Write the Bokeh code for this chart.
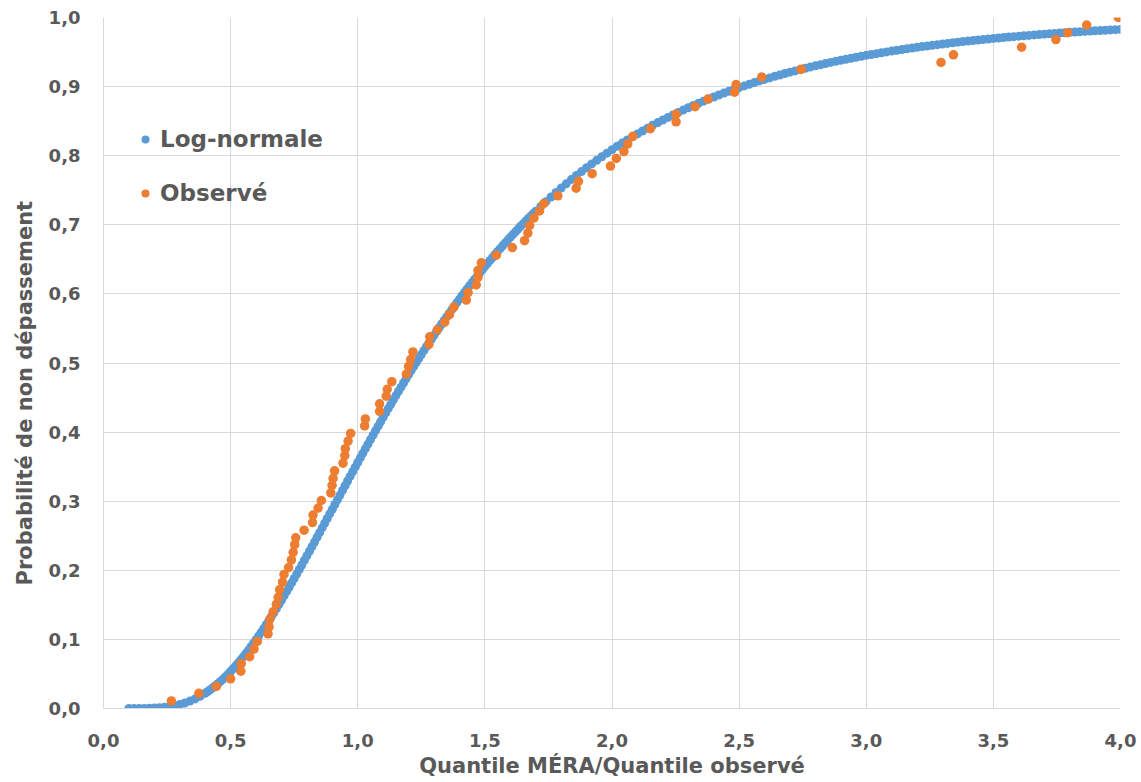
from bokeh.embed import file_html
from bokeh.models import (ColumnDataSource, CustomJSTickFormatter, FixedTicker,
                          Legend, LegendItem, Range1d, Title)
from bokeh.plotting import figure
from bokeh.resources import INLINE

# Fitted log-normal distribution: quantile ratio and non-exceedance probability
lognorm_x = [
    0.10, 0.12, 0.14, 0.16, 0.18, 0.20, 0.22, 0.24, 0.26, 0.28, 0.30, 0.32, 0.34, 0.36, 0.38, 0.40,
    0.41, 0.42, 0.43, 0.44, 0.45, 0.46, 0.47, 0.48, 0.49, 0.50,
    0.51, 0.52, 0.53, 0.54, 0.55, 0.56, 0.57, 0.58, 0.59, 0.60,
    0.61, 0.62, 0.63, 0.64, 0.65, 0.66, 0.67, 0.68, 0.69, 0.70,
    0.71, 0.72, 0.73, 0.74, 0.75, 0.76, 0.77, 0.78, 0.79, 0.80,
    0.81, 0.82, 0.83, 0.84, 0.85, 0.86, 0.87, 0.88, 0.89, 0.90,
    0.91, 0.92, 0.93, 0.94, 0.95, 0.96, 0.97, 0.98, 0.99, 1.00,
    1.01, 1.02, 1.03, 1.04, 1.05, 1.06, 1.07, 1.08, 1.09, 1.10,
    1.11, 1.12, 1.13, 1.14, 1.15, 1.16, 1.17, 1.18, 1.19, 1.20,
    1.21, 1.22, 1.23, 1.24, 1.25, 1.26, 1.27, 1.28, 1.29, 1.30,
    1.31, 1.32, 1.33, 1.34, 1.35, 1.36, 1.37, 1.38, 1.39, 1.40,
    1.41, 1.42, 1.43, 1.44, 1.45, 1.46, 1.47, 1.48, 1.49, 1.50,
    1.51, 1.52, 1.53, 1.54, 1.55, 1.56, 1.57, 1.58, 1.59, 1.60,
    1.61, 1.62, 1.63, 1.64, 1.65, 1.66, 1.67, 1.68, 1.69, 1.70,
    1.72, 1.74, 1.76, 1.78, 1.80, 1.82, 1.84, 1.86, 1.88, 1.90,
    1.92, 1.94, 1.96, 1.98, 2.00, 2.02, 2.04, 2.06, 2.08, 2.10,
    2.12, 2.14, 2.16, 2.18, 2.20, 2.22, 2.24, 2.26, 2.28, 2.30,
    2.32, 2.34, 2.36, 2.38, 2.40, 2.42, 2.44, 2.46, 2.48, 2.50,
    2.52, 2.54, 2.56, 2.58, 2.60, 2.62, 2.64, 2.66, 2.68, 2.70,
    2.72, 2.74, 2.76, 2.78, 2.80, 2.82, 2.84, 2.86, 2.88, 2.90,
    2.92, 2.94, 2.96, 2.98, 3.00, 3.02, 3.04, 3.06, 3.08, 3.10,
    3.12, 3.14, 3.16, 3.18, 3.20, 3.22, 3.24, 3.26, 3.28, 3.30,
    3.32, 3.34, 3.36, 3.38, 3.40, 3.42, 3.44, 3.46, 3.48, 3.50,
    3.52, 3.54, 3.56, 3.58, 3.60, 3.62, 3.64, 3.66, 3.68, 3.70,
    3.72, 3.74, 3.76, 3.78, 3.80, 3.82, 3.84, 3.86, 3.88, 3.90,
    3.92, 3.94, 3.96, 3.98, 4.00,
]
lognorm_p = [
    0.0000, 0.0000, 0.0000, 0.0001, 0.0003, 0.0006, 0.0010, 0.0017, 0.0027, 0.0040,
    0.0058, 0.0080, 0.0107, 0.0139, 0.0177, 0.0221,
    0.0246, 0.0272, 0.0300, 0.0329, 0.0359, 0.0392, 0.0426, 0.0461, 0.0497, 0.0536,
    0.0576, 0.0617, 0.0659, 0.0704, 0.0749, 0.0796, 0.0844, 0.0893, 0.0944, 0.0995,
    0.1048, 0.1102, 0.1156, 0.1213, 0.1269, 0.1327, 0.1386, 0.1445, 0.1506, 0.1567,
    0.1629, 0.1691, 0.1754, 0.1818, 0.1882, 0.1947, 0.2012, 0.2077, 0.2143, 0.2210,
    0.2276, 0.2343, 0.2410, 0.2478, 0.2545, 0.2613, 0.2681, 0.2749, 0.2817, 0.2884,
    0.2953, 0.3020, 0.3088, 0.3156, 0.3224, 0.3292, 0.3359, 0.3426, 0.3493, 0.3560,
    0.3627, 0.3693, 0.3760, 0.3825, 0.3891, 0.3956, 0.4021, 0.4086, 0.4150, 0.4214,
    0.4278, 0.4340, 0.4403, 0.4466, 0.4528, 0.4589, 0.4650, 0.4711, 0.4771, 0.4831,
    0.4890, 0.4949, 0.5007, 0.5065, 0.5122, 0.5179, 0.5236, 0.5292, 0.5347, 0.5402,
    0.5457, 0.5510, 0.5564, 0.5617, 0.5669, 0.5721, 0.5772, 0.5824, 0.5874, 0.5924,
    0.5973, 0.6023, 0.6071, 0.6118, 0.6165, 0.6213, 0.6260, 0.6305, 0.6350, 0.6396,
    0.6440, 0.6484, 0.6527, 0.6571, 0.6614, 0.6655, 0.6697, 0.6738, 0.6779, 0.6819,
    0.6858, 0.6897, 0.6937, 0.6976, 0.7013, 0.7050, 0.7087, 0.7124, 0.7160, 0.7196,
    0.7266, 0.7335, 0.7402, 0.7467, 0.7531, 0.7593, 0.7654, 0.7713, 0.7770, 0.7826,
    0.7881, 0.7934, 0.7985, 0.8037, 0.8086, 0.8135, 0.8182, 0.8227, 0.8272, 0.8315,
    0.8358, 0.8399, 0.8440, 0.8479, 0.8517, 0.8554, 0.8590, 0.8626, 0.8660, 0.8694,
    0.8726, 0.8758, 0.8789, 0.8819, 0.8849, 0.8878, 0.8906, 0.8933, 0.8959, 0.8985,
    0.9010, 0.9034, 0.9058, 0.9082, 0.9104, 0.9126, 0.9148, 0.9168, 0.9189, 0.9209,
    0.9227, 0.9246, 0.9265, 0.9283, 0.9300, 0.9317, 0.9334, 0.9350, 0.9366, 0.9381,
    0.9396, 0.9410, 0.9424, 0.9438, 0.9452, 0.9465, 0.9477, 0.9490, 0.9502, 0.9514,
    0.9525, 0.9536, 0.9547, 0.9558, 0.9569, 0.9579, 0.9588, 0.9598, 0.9607, 0.9617,
    0.9625, 0.9634, 0.9643, 0.9651, 0.9659, 0.9667, 0.9675, 0.9682, 0.9689, 0.9697,
    0.9703, 0.9710, 0.9717, 0.9723, 0.9730, 0.9736, 0.9741, 0.9748, 0.9753, 0.9759,
    0.9764, 0.9769, 0.9775, 0.9780, 0.9785, 0.9789, 0.9794, 0.9799, 0.9803, 0.9808,
    0.9812, 0.9816, 0.9820, 0.9824, 0.9828,
]

# Observed ratios with their empirical non-exceedance probabilities
obs_x = [
    0.267, 0.375, 0.444, 0.500, 0.540, 0.542, 0.575, 0.592, 0.605, 0.647,
    0.651, 0.654, 0.667, 0.680, 0.687, 0.693, 0.704, 0.710, 0.728, 0.739,
    0.746, 0.752, 0.756, 0.789, 0.822, 0.824, 0.844, 0.857, 0.894, 0.899,
    0.903, 0.909, 0.942, 0.949, 0.951, 0.962, 0.972, 1.027, 1.030, 1.086,
    1.086, 1.112, 1.116, 1.134, 1.191, 1.200, 1.208, 1.217, 1.280, 1.283,
    1.313, 1.342, 1.361, 1.378, 1.427, 1.434, 1.466, 1.473, 1.473, 1.486,
    1.545, 1.608, 1.656, 1.669, 1.676, 1.693, 1.715, 1.732, 1.787, 1.859,
    1.868, 1.922, 1.994, 2.017, 2.047, 2.062, 2.082, 2.151, 2.252, 2.252,
    2.327, 2.377, 2.482, 2.488, 2.589, 2.744, 3.294, 3.343, 3.611, 3.746,
    3.792, 3.867, 3.991,
]
obs_p = [
    0.011, 0.022, 0.032, 0.043, 0.054, 0.065, 0.075, 0.086, 0.097, 0.108,
    0.118, 0.129, 0.140, 0.151, 0.161, 0.172, 0.183, 0.194, 0.204, 0.215,
    0.226, 0.237, 0.247, 0.258, 0.269, 0.280, 0.290, 0.301, 0.312, 0.323,
    0.333, 0.344, 0.355, 0.366, 0.376, 0.387, 0.398, 0.409, 0.419, 0.430,
    0.441, 0.452, 0.462, 0.473, 0.484, 0.495, 0.505, 0.516, 0.527, 0.538,
    0.548, 0.559, 0.570, 0.581, 0.591, 0.602, 0.613, 0.624, 0.634, 0.645,
    0.656, 0.667, 0.677, 0.688, 0.699, 0.710, 0.720, 0.731, 0.742, 0.753,
    0.763, 0.774, 0.785, 0.796, 0.806, 0.817, 0.828, 0.839, 0.849, 0.860,
    0.871, 0.882, 0.892, 0.903, 0.914, 0.925, 0.935, 0.946, 0.957, 0.968,
    0.978, 0.989, 1.000,
]

x_ticks = [0.0, 0.5, 1.0, 1.5, 2.0, 2.5, 3.0, 3.5, 4.0]
y_ticks = [0.0, 0.1, 0.2, 0.3, 0.4, 0.5, 0.6, 0.7, 0.8, 0.9, 1.0]

series_names = ["Log-normale", "Observé"]
x_title = "Quantile MÉRA/Quantile observé"
y_title = "Probabilité de non dépassement"

BLUE = "#5B9BD5"
ORANGE = "#ED7D31"
TEXT = "#595959"
GRID = "#D9D9D9"
FONT = "DejaVu Sans"

p = figure(
    width=1141, height=782,
    x_range=Range1d(0, 4), y_range=Range1d(0, 1),
    output_backend="svg", toolbar_location=None,
    min_border_left=103, min_border_right=21,
    min_border_top=17, min_border_bottom=74,
)
p.outline_line_color = None
p.background_fill_color = "white"
p.border_fill_color = "white"

lognorm_src = ColumnDataSource(data=dict(x=lognorm_x, p=lognorm_p))
obs_src = ColumnDataSource(data=dict(x=obs_x, p=obs_p))

r_lognorm = p.scatter("x", "p", source=lognorm_src, size=9,
                      fill_color=BLUE, line_color=None)
r_obs = p.scatter("x", "p", source=obs_src, size=9.5,
                  fill_color=ORANGE, line_color=None)

# axes and grid
fmt = CustomJSTickFormatter(code="return tick.toFixed(1).replace('.', ',');")
for ax, ticks in ((p.xaxis, x_ticks), (p.yaxis, y_ticks)):
    ax.ticker = FixedTicker(ticks=ticks)
    ax.formatter = fmt
    ax.major_tick_line_color = None
    ax.minor_tick_line_color = None
    ax.major_tick_out = 0
    ax.major_tick_in = 0
    ax.axis_line_color = GRID
    ax.major_label_text_font = FONT
    ax.major_label_text_font_style = "bold"
    ax.major_label_text_font_size = "18px"
    ax.major_label_text_color = TEXT

p.yaxis.major_label_standoff = 23
p.xaxis.major_label_standoff = 25

p.xaxis.axis_label = x_title
p.xaxis.axis_label_text_font = FONT
p.xaxis.axis_label_text_font_style = "bold"
p.xaxis.axis_label_text_font_size = "21px"
p.xaxis.axis_label_text_color = TEXT
p.xaxis.axis_label_standoff = 4

p.xgrid.ticker = FixedTicker(ticks=x_ticks)
p.ygrid.ticker = FixedTicker(ticks=y_ticks)
p.xgrid.grid_line_color = GRID
p.ygrid.grid_line_color = GRID

# vertical axis title, set slightly below the middle of the frame
p.add_layout(Title(
    text=y_title, align="left", offset=123, vertical_align="bottom",
    standoff=18, text_font=FONT, text_font_style="bold",
    text_font_size="21px", text_color=TEXT,
), "left")

legend = Legend(
    items=[LegendItem(label=series_names[0], renderers=[r_lognorm]),
           LegendItem(label=series_names[1], renderers=[r_obs])],
    location=(32, 501.5),
    glyph_width=20, glyph_height=20, label_height=27, spacing=27,
    label_standoff=5, padding=0, margin=0,
    label_text_font=FONT, label_text_font_style="bold",
    label_text_font_size="23px", label_text_color=TEXT,
    border_line_color=None, background_fill_alpha=0,
)
p.add_layout(legend)

open("out.html", "w").write(file_html(p, INLINE))
